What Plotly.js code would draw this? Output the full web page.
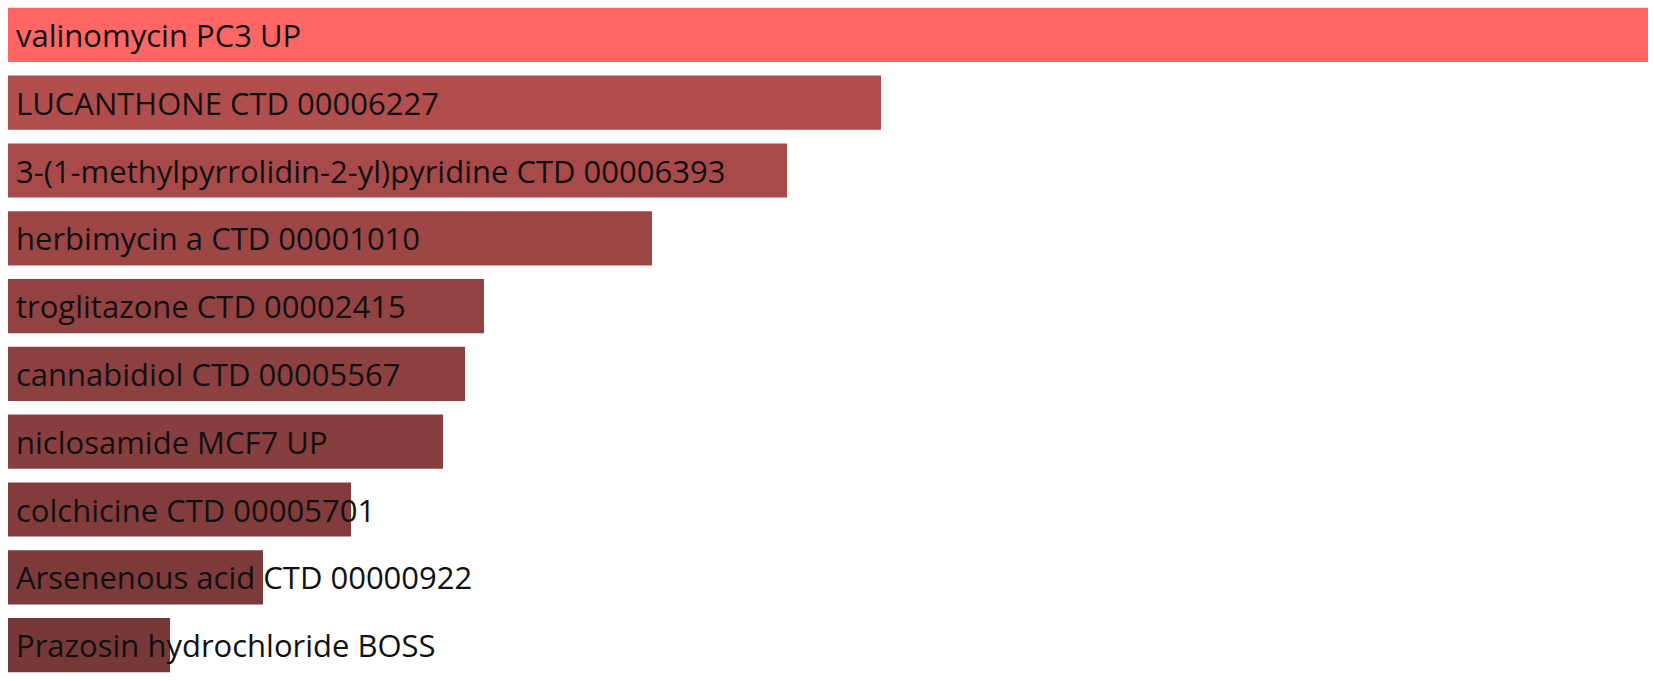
<!DOCTYPE html>
<html>
<head>
<meta charset="utf-8">
<script src="https://cdn.plot.ly/plotly-3.0.1.min.js"></script>
<style>html,body{margin:0;padding:0;background:#fff;}#chart{width:1654px;height:681px;}</style>
</head>
<body>
<div id="chart"></div>
<script>
var terms = [
  "valinomycin PC3 UP",
  "LUCANTHONE CTD 00006227",
  "3-(1-methylpyrrolidin-2-yl)pyridine CTD 00006393",
  "herbimycin a CTD 00001010",
  "troglitazone CTD 00002415",
  "cannabidiol CTD 00005567",
  "niclosamide MCF7 UP",
  "colchicine CTD 00005701",
  "Arsenenous acid CTD 00000922",
  "Prazosin hydrochloride BOSS"
];
var scores = [16.40, 8.73, 7.79, 6.44, 4.76, 4.57, 4.35, 3.43, 2.55, 1.62];
var barColors = ["#ff6666", "#b04d4d", "#a84a4a", "#9c4646", "#934242", "#8c4040", "#883e3e", "#823c3c", "#7c3a3a", "#773838"];

var yKeys = terms.map(function(t, i){ return "r" + i; });

var trace = {
  type: "bar",
  orientation: "h",
  x: scores,
  y: yKeys,
  marker: {color: barColors, line: {width: 0}},
  hoverinfo: "none"
};

var annotations = terms.map(function(t, i){
  return {
    x: 0, y: yKeys[i], xref: "x", yref: "y",
    text: t, showarrow: false, xanchor: "left", yanchor: "middle",
    xshift: 6, font: {family: "Open Sans, Noto Sans, sans-serif", size: 31, color: "#111"}
  };
});

var layout = {
  width: 1654, height: 681,
  margin: {l: 8, r: 6, t: 1, b: 2, pad: 0},
  paper_bgcolor: "#ffffff", plot_bgcolor: "#ffffff",
  showlegend: false,
  bargap: 0.2,
  xaxis: {range: [0, scores[0]], visible: false, fixedrange: true},
  yaxis: {type: "category", autorange: "reversed", visible: false, fixedrange: true},
  annotations: annotations
};

Plotly.newPlot("chart", [trace], layout, {displayModeBar: false, staticPlot: true});
</script>
</body>
</html>
